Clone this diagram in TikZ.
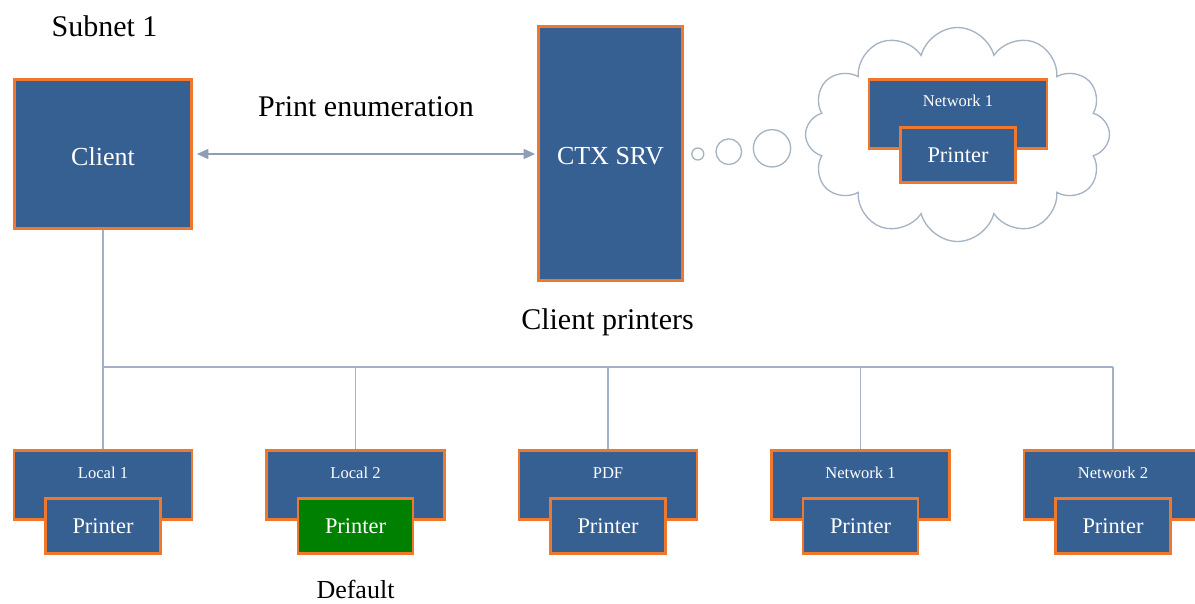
\documentclass[tikz,border=0pt]{standalone}
\usepackage{fontspec}
\setmainfont{Liberation Serif}
\usetikzlibrary{shapes.symbols,arrows.meta}

\definecolor{boxblue}{HTML}{376092}
\definecolor{boxedge}{HTML}{F0782D}
\definecolor{defgreen}{HTML}{008000}
\definecolor{wire}{HTML}{A3B1C6}
\definecolor{arrowgray}{HTML}{8D9DB4}
\definecolor{cloudline}{HTML}{A5B3C5}

\tikzset{
  blk/.style={rectangle, draw=boxedge, line width=2.2pt, fill=boxblue,
    text=white, inner sep=0pt},
  groupbox/.style={blk, minimum width=0.75*178pt, minimum height=0.75*69pt},
  printerbox/.style={blk, minimum width=0.75*115pt, minimum height=0.75*55pt,
    font=\fontsize{16.8}{18}\selectfont},
  smalllabel/.style={text=white, font=\fontsize{12.4}{14}\selectfont, inner sep=0pt},
  caption/.style={font=\fontsize{22.5}{26}\selectfont, inner sep=0pt, anchor=base},
  midcaption/.style={font=\fontsize{19.5}{22}\selectfont, inner sep=0pt, anchor=base},
  wireline/.style={draw=wire, line width=0.9pt},
  bubble/.style={circle, draw=cloudline, line width=1pt, inner sep=0pt},
}

\begin{document}
\begin{tikzpicture}[x=0.75pt, y=-0.75pt]
  \useasboundingbox (0,0) rectangle (1195,603);

  % captions
  \node[caption] (subnet) at (104.5,36.5) {Subnet 1};
  \node[caption] (enum) at (366,116.5) {Print enumeration};
  \node[caption] (cprint) at (607.5,329.5) {Client printers};
  \node[midcaption] (default) at (355.5,598) {Default};

  % client and server
  \node[blk, minimum width=0.75*177pt, minimum height=0.75*149pt] (client) at (103,154) {};
  \node[midcaption, text=white] (clienttxt) at (103,165) {Client};
  \node[blk, minimum width=0.75*144pt, minimum height=0.75*254pt] (ctx) at (610.5,153.5) {};
  \node[midcaption, text=white] (ctxtxt) at (610.5,164.5) {CTX SRV};

  \draw[arrowgray, line width=1pt,
        {Triangle[length=8.5pt,width=7.5pt]}-{Triangle[length=8.5pt,width=7.5pt]},
        shorten <=3pt, shorten >=1.5pt]
    (client.east |- 0,154) -- (ctx.west |- 0,154);

  % thought bubbles leading to the cloud
  \node[bubble, minimum size=0.75*12pt] (t1) at (697.8,154) {};
  \node[bubble, minimum size=0.75*25.6pt] (t2) at (728.8,151.7) {};
  \node[bubble, minimum size=0.75*37.3pt] (t3) at (772,148.3) {};

  % remote network printer inside the cloud
  \node[cloud, draw=cloudline, line width=1pt, cloud puffs=12,
        minimum width=0.75*304pt, minimum height=0.75*214pt] (cloud) at (957.5,134.5) {};
  \node[groupbox] (cn) at (958,114) {};
  \node[smalllabel] (cnl) at (958,101) {Network 1};
  \node[printerbox] (cp) at (958,154.7) {Printer};

  % client printers bus
  \coordinate (busL) at (103,367);
  \coordinate (busR) at (1113,367);
  \draw[wireline] (client.south) -- (busL) -- (busR);

  \foreach \i/\x/\lbl/\col in {1/103/Local 1/boxblue, 2/355.5/Local 2/defgreen,
      3/608/PDF/boxblue, 4/860.5/Network 1/boxblue, 5/1113/Network 2/boxblue} {
    \node[groupbox] (g\i) at (\x,485) {};
    \node[smalllabel] (l\i) at (\x,473) {\lbl};
    \node[printerbox, fill=\col] (p\i) at (\x,526) {Printer};
    \draw[wireline] (g\i.north) -- (g\i.north |- busL);
  }
\end{tikzpicture}
\end{document}
